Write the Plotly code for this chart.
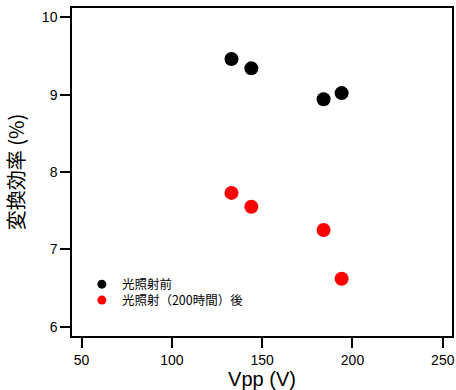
import plotly.graph_objects as go

vpp = [133, 144, 184, 194]
eff_before = [9.46, 9.34, 8.94, 9.02]
eff_after = [7.73, 7.55, 7.25, 6.62]
names = ["光照射前", "光照射（200時間）後"]
colors = ["black", "red"]
legends = ["legend", "legend2"]

fig = go.Figure()
for ys, nm, c, lg in zip([eff_before, eff_after], names, colors, legends):
    fig.add_trace(go.Scatter(x=vpp, y=ys, mode="markers", name=nm, showlegend=False,
                             marker=dict(color=c, size=14, line=dict(width=0))))
    fig.add_trace(go.Scatter(x=[None], y=[None], mode="markers", name=nm, legend=lg,
                             marker=dict(color=c, size=9, line=dict(width=0))))

axis_common = dict(showgrid=False, zeroline=False, showline=True, linecolor="black",
                   linewidth=1.5, ticks="outside", ticklen=10, tickwidth=1.5,
                   tickcolor="black", mirror=True,
                   tickfont=dict(family="Liberation Sans Narrow, Liberation Sans, Arial", size=14, color="black"))

leg_common = dict(x=0.026, xanchor="left", yanchor="top", bgcolor="rgba(0,0,0,0)",
                  font=dict(size=12.5), itemsizing="trace")

fig.update_layout(
    width=456, height=390,
    margin=dict(l=72, r=2, t=8, b=54),
    paper_bgcolor="white", plot_bgcolor="white",
    font=dict(family="Noto Sans CJK JP, sans-serif", color="black"),
    xaxis=dict(range=[44.7, 255.1], tickvals=[50, 100, 150, 200, 250],
               title=dict(text="Vpp (V)", font=dict(size=20, family="Liberation Sans Narrow, Liberation Sans, Arial"), standoff=0),
               **axis_common),
    yaxis=dict(range=[5.88, 10.12], tickvals=[6, 7, 8, 9, 10],
               title=dict(text="変換効率 (%)", font=dict(size=20), standoff=12),
               **axis_common),
    legend=dict(y=0.2027, **leg_common),
    legend2=dict(y=0.1540, **leg_common),
)
fig.write_html("out.html")
